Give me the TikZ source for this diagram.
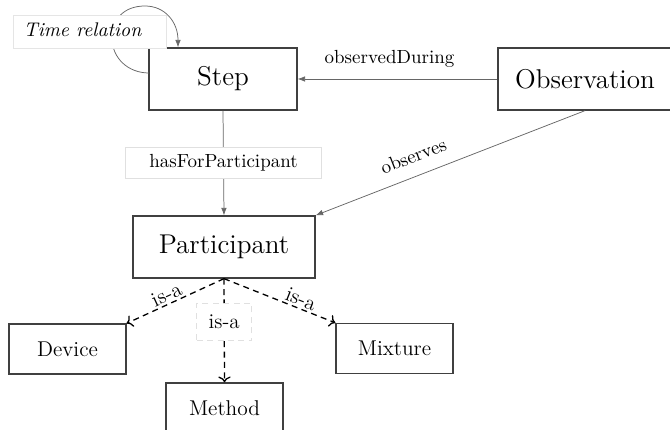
\documentclass[tikz,border=0pt]{standalone}
\usetikzlibrary{arrows.meta}
\begin{document}
\begin{tikzpicture}[x=0.5376pt,y=-0.5376pt,
  bigbox/.style={draw=black!75,line width=0.7pt,inner sep=0pt,minimum height=62*0.5376pt,font=\fontsize{14.6}{17}\selectfont},
  smallbox/.style={draw=black!75,line width=0.7pt,inner sep=0pt,minimum width=117*0.5376pt,minimum height=50*0.5376pt,font=\fontsize{11.5}{14}\selectfont},
  thinrel/.style={draw=black!60,line width=0.4pt,-{Latex[length=4pt,width=3pt]}},
  isarel/.style={draw=black,line width=0.7pt,dash pattern=on 3.2pt off 2.4pt,->},
  lbl/.style={font=\fontsize{10.2}{12}\selectfont,inner sep=1pt},
  isalbl/.style={font=\fontsize{11.3}{13}\selectfont,inner sep=1pt},
  lblbox/.style={font=\fontsize{10.2}{12}\selectfont,draw=black!12,fill=white,inner sep=0pt}
]
\useasboundingbox (0,0) rectangle (670,430);
\clip (0,0) rectangle (670,430);

% nodes
\node[bigbox,minimum width=148*0.5376pt] (step) at (223,79) {Step};
\node[bigbox,minimum width=174*0.5376pt] (obs) at (585,79) {Observation};
\node[bigbox,minimum width=182*0.5376pt] (part) at (224,247) {Participant};
\node[smallbox] (device) at (67.5,349) {Device};
\node[smallbox] (mixture) at (394.5,348.5) {Mixture};
\node[smallbox] (method) at (224.5,408) {Method};

% time relation loop
\draw[thinrel] (149,73) .. controls (128,73) and (112,58) .. (112,38)
  .. controls (112,18) and (125,6) .. (145,6)
  .. controls (165,6) and (178,22) .. (step.north -| 178,0);
\path[fill=white,draw=black!10,line width=0.4pt] (13,15) rectangle (166,48);
\node[font=\fontsize{10.6}{12}\selectfont\itshape,inner sep=0pt] (timerel) at (82.5,30) {Time relation};

% relations
\draw[thinrel] (obs.west) -- (step.east)
  node[lbl,pos=0.54,above=5pt] (lod) {observedDuring};
\draw[thinrel] (obs.south) -- (part.north east)
  node[lbl,pos=0.61,sloped,above=6pt] (lobs) {observes};
\draw[thinrel] (step.south) -- (part.north)
  node[lblbox,midway,minimum width=196*0.5376pt,minimum height=31*0.5376pt] (lhas) {hasForParticipant};

% is-a
\draw[isarel] (part.south) -- (device.north east)
  node[isalbl,pos=0.55,sloped,above=0pt] (lisa1) {is-a};
\draw[isarel] (part.south) -- (mixture.north west)
  node[isalbl,pos=0.66,sloped,above=0pt] (lisa2) {is-a};
\draw[isarel] (part.south) -- (method.north)
  node[lblbox,font=\fontsize{11.3}{13}\selectfont,pos=0.42,minimum width=55*0.5376pt,minimum height=37*0.5376pt] (lisa3) {is-a};
\end{tikzpicture}
\end{document}
